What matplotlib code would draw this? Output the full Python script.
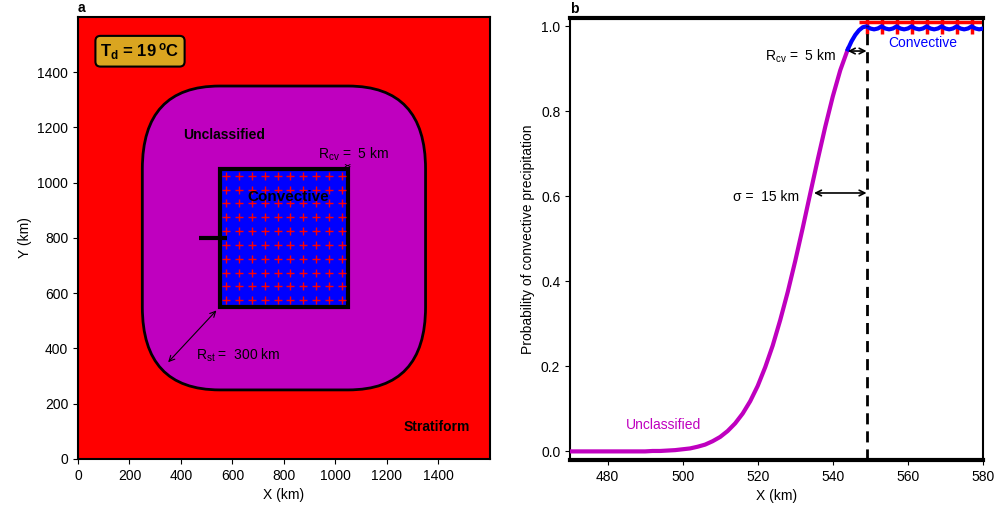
import numpy as np
import matplotlib
matplotlib.use("Agg")
import matplotlib.pyplot as plt
from matplotlib.patches import Rectangle, FancyBboxPatch

plt.rcParams["font.family"] = ["Liberation Sans", "DejaVu Sans"]
plt.rcParams["font.size"] = 10

# ---- panel a: idealised domain (km) ----
domain_km = [0, 1600]
conv_square = [550, 1050]          # convective core extent (x and y)
r_st = 300                          # stratiform radius
r_cv = 5
td_degc = 19
grid_km = [575, 625, 675, 725, 775, 825, 875, 925, 975, 1025]
transect_x = [470, 580]
transect_y = 800

# ---- panel b: probability along transect ----
unclass_x = [470, 472, 474, 476, 478, 480, 482, 484, 486, 488, 490, 492, 494,
             496, 498, 500, 502, 504, 506, 508, 510, 512, 514, 516, 518, 520,
             522, 524, 526, 528, 530, 532, 534, 536, 538, 540, 542, 544]
unclass_p = [0.000, 0.000, 0.000, 0.000, 0.000, 0.000, 0.000, 0.000, 0.000,
             0.000, 0.000, 0.001, 0.001, 0.002, 0.003, 0.005, 0.007, 0.011,
             0.016, 0.024, 0.034, 0.048, 0.066, 0.089, 0.118, 0.154, 0.198,
             0.249, 0.309, 0.375, 0.448, 0.526, 0.607, 0.687, 0.764, 0.835,
             0.897, 0.946]
conv_x = [544, 545, 546, 547, 548, 549, 550, 551, 552, 553, 554, 555, 556, 557,
          558, 559, 560, 561, 562, 563, 564, 565, 566, 567, 568, 569, 570, 571,
          572, 573, 574, 575, 576, 577, 578, 579, 580]
conv_p = [0.946, 0.965, 0.980, 0.991, 0.998, 1.000, 0.995, 0.993, 0.995, 1.000,
          0.995, 0.993, 0.995, 1.000, 0.995, 0.993, 0.995, 1.000, 0.995, 0.993,
          0.995, 1.000, 0.995, 0.993, 0.995, 1.000, 0.995, 0.993, 0.995, 1.000,
          0.995, 0.993, 0.995, 1.000, 0.995, 0.993, 0.995]
conv_pts_x = [549, 553, 557, 561, 565, 569, 573, 577]
edge_x = 549
sigma_km = 15

fig = plt.figure(figsize=(9.97, 5.11), dpi=100)
ax1 = fig.add_axes([0.0782, 0.1018, 0.4132, 0.865])
ax2 = fig.add_axes([0.5717, 0.1000, 0.4142, 0.865])

# ---------- panel a ----------
ax1.set_facecolor("red")
side = conv_square[1] - conv_square[0]
ring = FancyBboxPatch((conv_square[0], conv_square[0]), side, side,
                      boxstyle=f"round,pad={r_st},rounding_size={r_st}",
                      facecolor="#BF00BF", edgecolor="black", lw=2, zorder=1)
ax1.add_patch(ring)
core = Rectangle((conv_square[0], conv_square[0]), side, side,
                 facecolor="blue", edgecolor="black", lw=3, zorder=2)
ax1.add_patch(core)
gx, gy = np.meshgrid(grid_km, grid_km)
ax1.plot(gx.ravel(), gy.ravel(), "+", color="red", ms=5.5, mew=1, zorder=3)
ax1.plot(transect_x, [transect_y, transect_y], color="black", lw=3,
         solid_capstyle="butt", zorder=4)

d = r_st / np.sqrt(2)
ax1.annotate("", xy=(conv_square[0] - d + 5, conv_square[0] - d + 5),
             xytext=(conv_square[0] - 5, conv_square[0] - 5),
             arrowprops=dict(arrowstyle="<->", color="black", lw=0.8), zorder=5)
ax1.text(460, 375, r"$\mathregular{R_{st}}$ =  300 km", ha="left", va="center",
         fontsize=10)
ax1.annotate("", xy=(conv_square[1] - r_cv, 1062), xytext=(conv_square[1], 1062),
             arrowprops=dict(arrowstyle="<->", color="black", lw=0.6,
                             mutation_scale=4, shrinkA=0, shrinkB=0), zorder=5)
ax1.text(1070, 1102, r"$\mathregular{R_{cv}}$ =  5 km", ha="center", va="center",
         fontsize=10)

ax1.text(815, 950, "Convective", ha="center", va="center", fontsize=11,
         fontweight="bold", zorder=6)
ax1.text(568, 1172, "Unclassified", ha="center", va="center", fontsize=10,
         fontweight="bold")
ax1.text(1392, 115, "Stratiform", ha="center", va="center", fontsize=10,
         fontweight="bold")
ax1.text(241, 1476, r"$\mathregular{T_d}$ = %d$\mathregular{\,^oC}$" % td_degc,
         ha="center", va="center", fontsize=12, fontweight="bold",
         bbox=dict(boxstyle="round,pad=0.3", facecolor="#DAA520",
                   edgecolor="black", lw=1.5))

ax1.set_xlim(domain_km)
ax1.set_ylim(domain_km)
ax1.set_xticks(np.arange(0, 1401, 200))
ax1.set_yticks(np.arange(0, 1401, 200))
ax1.set_xlabel("X (km)")
ax1.set_ylabel("Y (km)")
for s in ax1.spines.values():
    s.set_linewidth(1.5)
ax1.text(0, 1.005, "a", transform=ax1.transAxes, fontweight="bold",
         fontsize=10, ha="left", va="bottom")

# ---------- panel b ----------
ax2.plot(unclass_x, unclass_p, color="#BF00BF", lw=3, zorder=3)
ax2.plot([edge_x - 2, 580], [1.011, 1.011], color="red", lw=2.5, zorder=2,
         solid_capstyle="butt")
ax2.plot(conv_pts_x, [1.0] * len(conv_pts_x), "|", color="red", ms=12,
         mew=2.5, zorder=2, clip_on=False)
ax2.plot(conv_x, conv_p, color="blue", lw=3, zorder=3)
ax2.vlines(edge_x, -0.02, 1.0, colors="black", linestyles=(0, (4, 2.5)),
           lw=2, zorder=4)
ax2.annotate("", xy=(edge_x - r_cv, 0.942), xytext=(edge_x, 0.942),
             arrowprops=dict(arrowstyle="<->", color="black", lw=1.2,
                             shrinkA=0, shrinkB=0), zorder=5)
ax2.text(541, 0.93, r"$\mathregular{R_{cv}}$ =  5 km", ha="right", va="center",
         fontsize=10)
ax2.annotate("", xy=(edge_x - 14, 0.608), xytext=(edge_x, 0.608),
             arrowprops=dict(arrowstyle="<->", color="black", lw=1.2,
                             shrinkA=0, shrinkB=0), zorder=5)
ax2.text(531, 0.598, "σ =  %d km" % sigma_km, ha="right", va="center",
         fontsize=10)
ax2.text(564, 0.962, "Convective", color="blue", ha="center", va="center",
         fontsize=10)
ax2.text(495, 0.061, "Unclassified", color="#BF00BF", ha="center",
         va="center", fontsize=10)

ax2.set_xlim(470, 580)
ax2.set_ylim(-0.02, 1.02)
ax2.set_xticks(np.arange(480, 581, 20))
ax2.set_yticks(np.arange(0, 1.01, 0.2))
ax2.set_xlabel("X (km)")
ax2.set_ylabel("Probability of convective precipitation")
ax2.spines["top"].set_linewidth(3)
ax2.spines["bottom"].set_linewidth(3)
ax2.spines["left"].set_linewidth(1.5)
ax2.spines["right"].set_linewidth(1.5)
ax2.text(0, 1.005, "b", transform=ax2.transAxes, fontweight="bold",
         fontsize=10, ha="left", va="bottom")

fig.savefig("out.png", dpi=100)
